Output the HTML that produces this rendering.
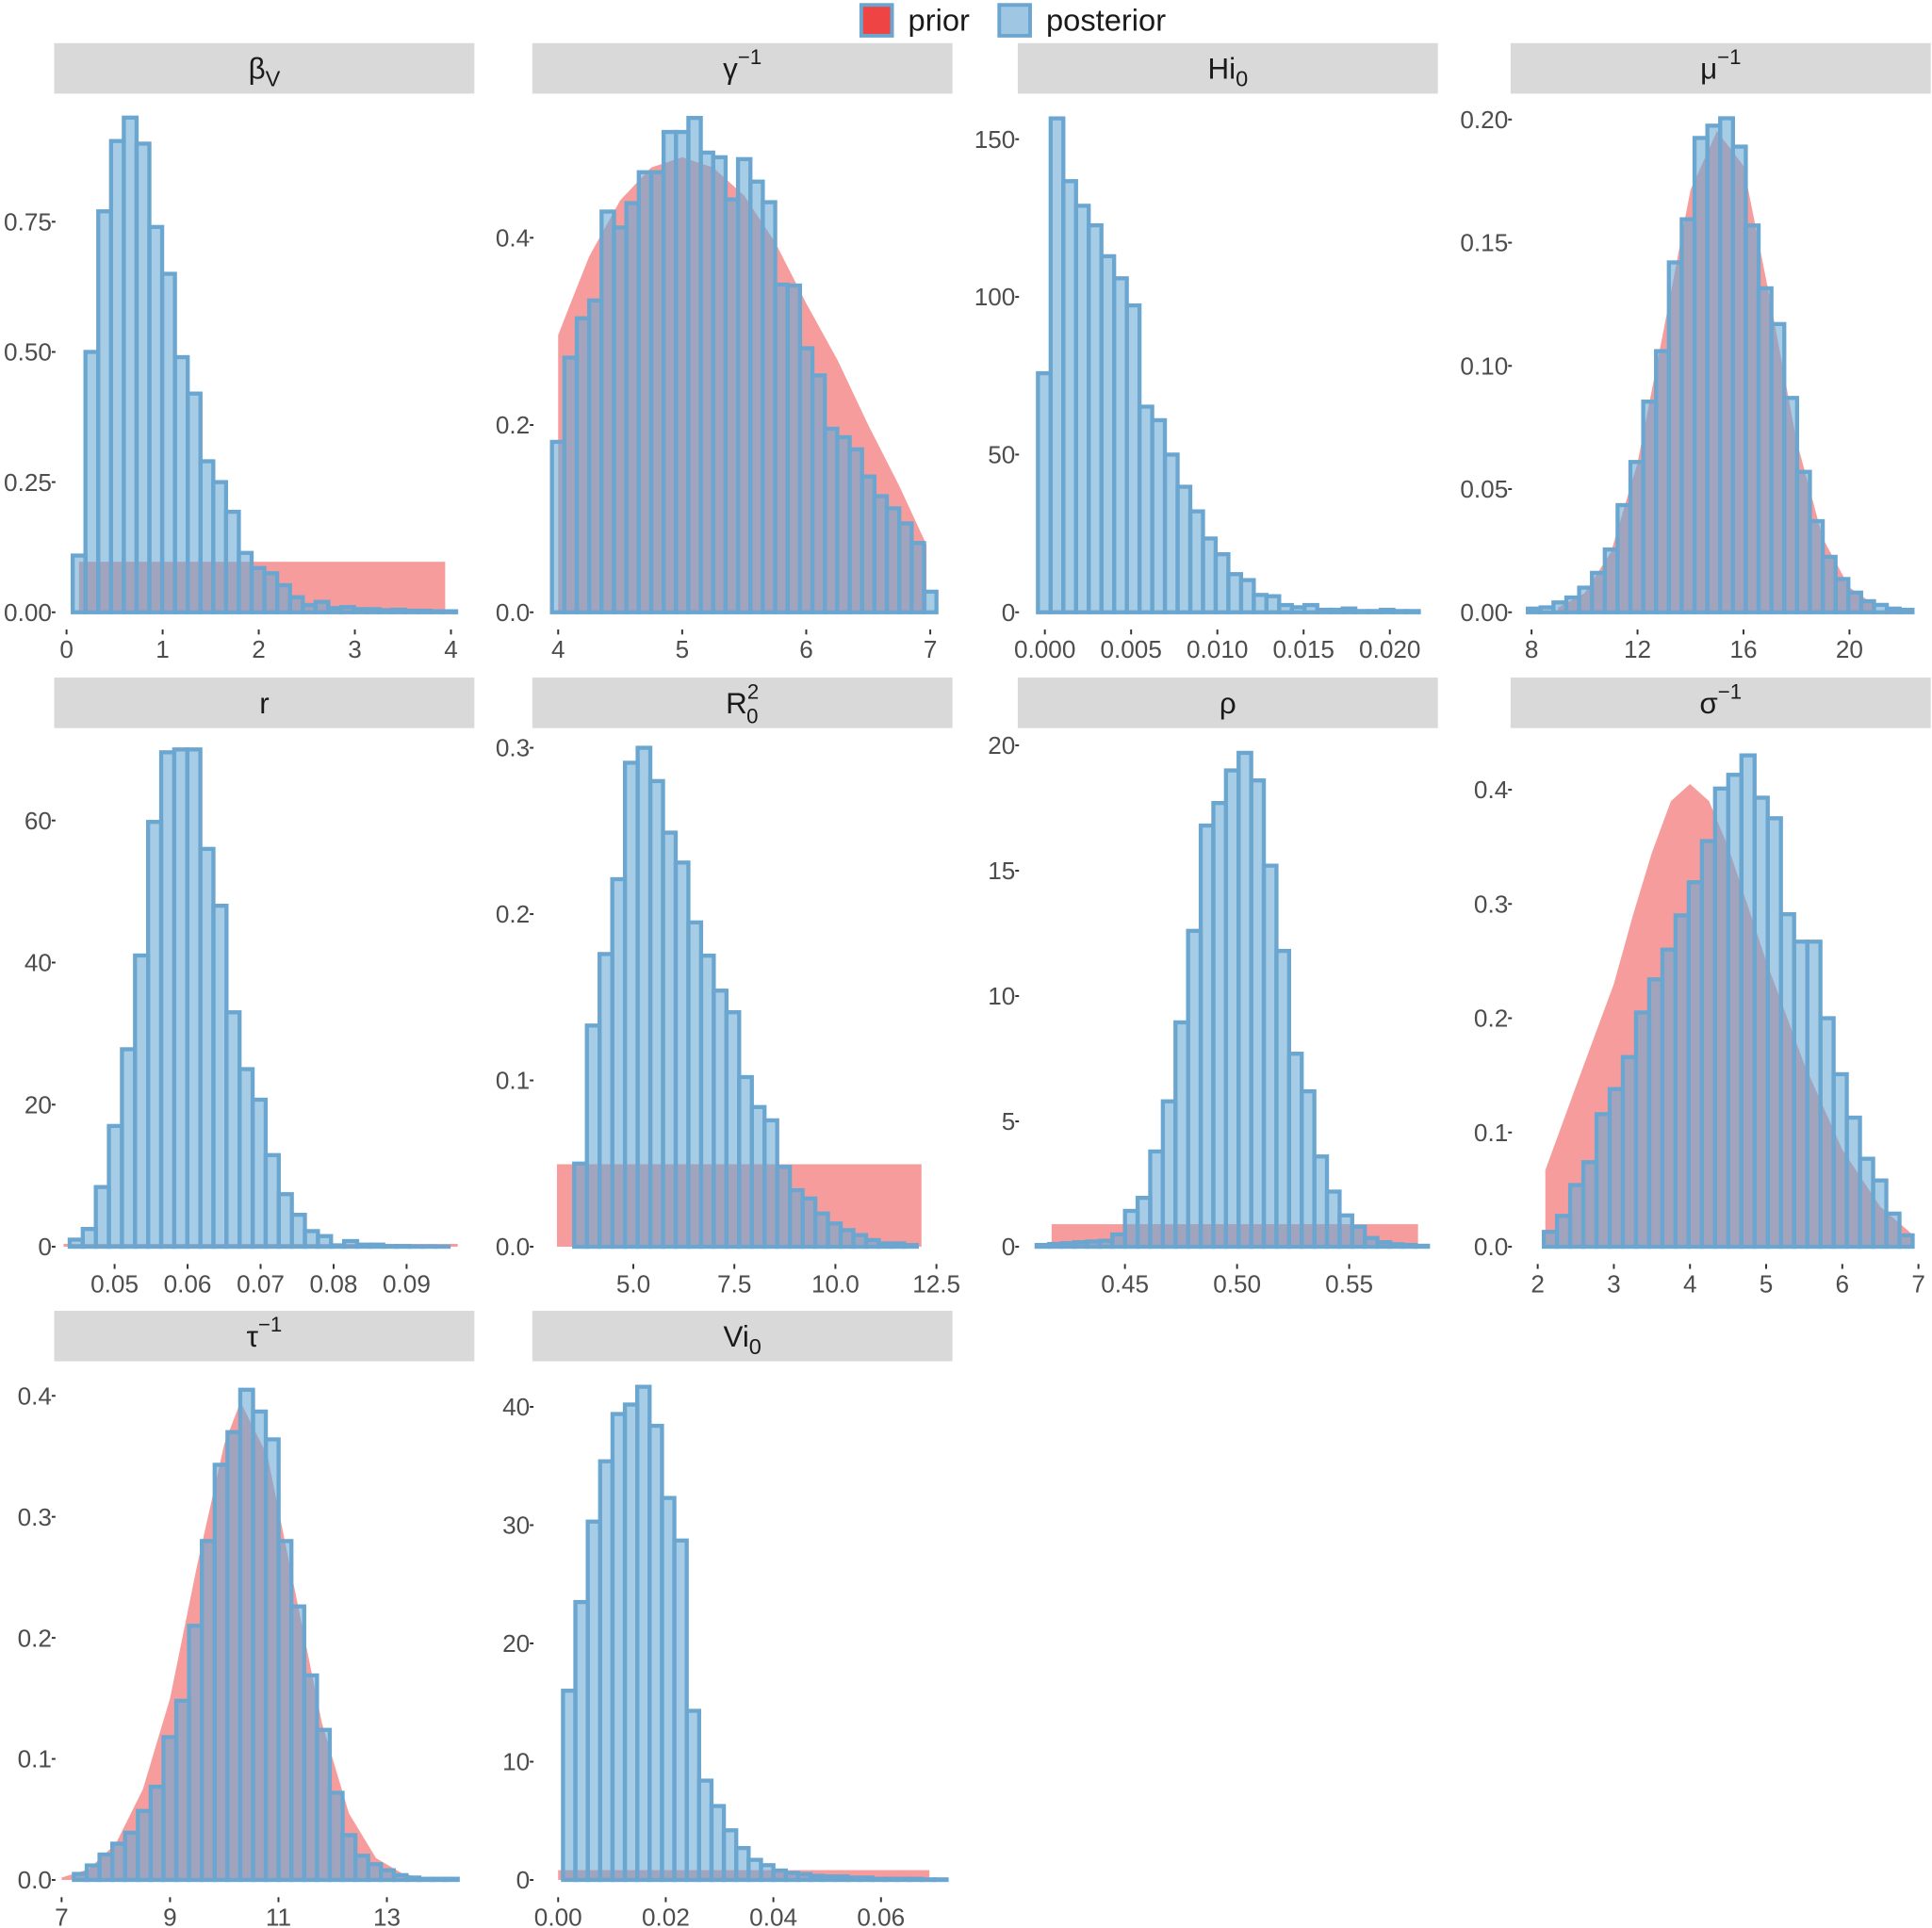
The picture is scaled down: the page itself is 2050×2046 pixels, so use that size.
<!DOCTYPE html>
<html><head><meta charset="utf-8"><style>
html,body{margin:0;padding:0;background:#fff}
svg{display:block}
text{font-family:"Liberation Sans",Arial,sans-serif}
</style></head><body>
<svg id="chart" width="2050" height="2046" viewBox="0 0 1568 1565" preserveAspectRatio="none" xmlns="http://www.w3.org/2000/svg">
<g>
<rect x="699" y="4" width="25" height="25" fill="#ee4444" stroke="#6aa6cf" stroke-width="3"/>
<text x="737" y="25" font-size="25" fill="#1a1a1a">prior</text>
<rect x="811" y="4" width="25" height="25" fill="#9fc7e3" stroke="#6aa6cf" stroke-width="3"/>
<text x="849" y="25" font-size="25" fill="#1a1a1a">posterior</text>
</g>
<g id="panels"></g>
</svg>
<script>
// ---- data arrays ----
const betaStart = 0.064, betaWidth = 0.133;
const betaHeights = [0.109,0.50,0.77,0.905,0.95,0.9,0.74,0.65,0.49,0.42,0.29,0.25,0.193,0.114,0.085,0.075,0.052,0.029,0.014,0.02,0.008,0.01,0.006,0.006,0.004,0.005,0.003,0.003,0.002,0.002];
const betaPriorRect = [0.13, 3.94, 0.097];

const gammaStart = 3.95, gammaWidth = 0.1;
const gammaHeights = [0.182,0.272,0.314,0.333,0.428,0.411,0.437,0.47,0.47,0.513,0.513,0.528,0.491,0.486,0.441,0.484,0.46,0.438,0.35,0.349,0.282,0.253,0.196,0.187,0.174,0.145,0.124,0.111,0.095,0.074,0.022];
const gammaPriorX = [4,4.1,4.25,4.5,4.75,5,5.25,5.5,5.75,6,6.25,6.5,6.75,6.97];
const gammaPriorY = [0.296,0.33,0.38,0.44,0.475,0.486,0.475,0.445,0.395,0.33,0.27,0.2,0.135,0.072];

const hiStart = -0.0004, hiWidth = 0.000736;
const hiHeights = [75.8,156.6,136.7,128.9,122.7,112.9,105.9,97.3,65.2,60.9,50,39.8,32,23.4,18.4,12.1,10.2,5.5,5.1,2.3,1.6,2.3,0.8,0.8,1.2,0.4,0.4,0.8,0.4,0.4];

const muStart = 7.86, muWidth = 0.484;
const muHeights = [0.0015,0.002,0.004,0.006,0.01,0.016,0.0255,0.0435,0.061,0.0855,0.106,0.142,0.1595,0.1925,0.1975,0.2005,0.189,0.157,0.1315,0.117,0.087,0.057,0.037,0.0225,0.0135,0.008,0.0045,0.003,0.0015,0.001];
const muPriorX = [9,10,11,12,13,14,15,16,17,18,19,20,21];
const muPriorY = [0.0019,0.0077,0.0245,0.0606,0.1153,0.1714,0.1953,0.1812,0.1272,0.0698,0.0299,0.0101,0.0026];

const rStart = 0.04385, rWidth = 0.00179;
const rHeights = [1,2.5,8.4,17,27.8,41,59.8,69.6,70,70,56,48,33,25,20.7,12.9,7.4,4.5,2.2,1.5,0.2,0.8,0.3,0.3,0.1,0.1,0.05,0.05,0.02];
const rPriorRect = [0.043, 0.097, 0.4];

const r0Start = 3.537, r0Width = 0.314;
const r0Heights = [0.05,0.133,0.176,0.221,0.291,0.30,0.28,0.249,0.231,0.195,0.175,0.154,0.141,0.102,0.084,0.076,0.048,0.034,0.029,0.02,0.014,0.01,0.007,0.004,0.002,0.002,0.001];
const r0PriorRect = [3.11, 12.13, 0.0496];

const rhoStart = 0.4106, rhoWidth = 0.00563;
const rhoHeights = [0.07,0.11,0.14,0.18,0.21,0.24,0.49,1.43,1.95,3.8,5.8,8.95,12.6,16.8,17.7,19.0,19.7,18.6,15.2,11.8,7.7,6.2,3.6,2.2,1.25,0.8,0.35,0.18,0.1,0.07,0.04];
const rhoPriorRect = [0.4173, 0.5807, 0.9];

const sigmaStart = 2.08, sigmaWidth = 0.173;
const sigmaHeights = [0.013,0.027,0.054,0.074,0.116,0.138,0.166,0.205,0.234,0.26,0.29,0.319,0.355,0.401,0.413,0.43,0.393,0.375,0.291,0.267,0.267,0.2,0.151,0.113,0.077,0.058,0.029,0.01];
const sigmaPriorX = [2.1,2.5,3,3.25,3.5,3.75,4,4.25,4.5,5,5.5,6,6.5,6.9];
const sigmaPriorY = [0.067,0.14,0.23,0.29,0.345,0.39,0.405,0.39,0.35,0.25,0.16,0.085,0.035,0.012];

const tauStart = 7.227, tauWidth = 0.236;
const tauHeights = [0.005,0.012,0.021,0.03,0.039,0.057,0.077,0.118,0.148,0.21,0.28,0.343,0.37,0.405,0.387,0.364,0.28,0.226,0.169,0.124,0.072,0.037,0.02,0.013,0.008,0.004,0.002,0.001,0.001,0.001];
const tauPriorX = [7,7.5,8,8.5,9,9.5,10,10.3,10.8,11.3,11.8,12.3,12.8,13.3,13.8];
const tauPriorY = [0.002,0.009,0.03,0.075,0.15,0.26,0.36,0.395,0.35,0.24,0.13,0.055,0.018,0.005,0.001];

const viStart = 0.0009, viWidth = 0.0023;
const viHeights = [16,23.5,30.3,35.4,39.4,40.2,41.7,38.4,32.3,28.7,14.3,8.4,6.25,4.2,2.7,1.7,1.25,0.8,0.6,0.5,0.35,0.3,0.3,0.2,0.2,0.1,0.1,0.1,0.1,0.05,0.05];
const viPriorRect = [0.0, 0.069, 0.83];

// tick labels
const betaXT = ["0","1","2","3","4"], betaYT = ["0.00","0.25","0.50","0.75"];
const gammaXT = ["4","5","6","7"], gammaYT = ["0.0","0.2","0.4"];
const hiXT = ["0.000","0.005","0.010","0.015","0.020"], hiYT = ["0","50","100","150"];
const muXT = ["8","12","16","20"], muYT = ["0.00","0.05","0.10","0.15","0.20"];
const rXT = ["0.05","0.06","0.07","0.08","0.09"], rYT = ["0","20","40","60"];
const r0XT = ["5.0","7.5","10.0","12.5"], r0YT = ["0.0","0.1","0.2","0.3"];
const rhoXT = ["0.45","0.50","0.55"], rhoYT = ["0","5","10","15","20"];
const sigmaXT = ["2","3","4","5","6","7"], sigmaYT = ["0.0","0.1","0.2","0.3","0.4"];
const tauXT = ["7","9","11","13"], tauYT = ["0.0","0.1","0.2","0.3","0.4"];
const viXT = ["0.00","0.02","0.04","0.06"], viYT = ["0","10","20","30","40"];

// ---- layout ----
const NS = "http://www.w3.org/2000/svg";
const root = document.getElementById("panels");
function mk(tag, attrs, parent){
  const e = document.createElementNS(NS, tag);
  for (const k in attrs) e.setAttribute(k, attrs[k]);
  parent.appendChild(e);
  return e;
}
const cols = [[44,385],[432,773],[826,1167],[1226,1567]];
const rows = [{s:35, b:497},{s:550, b:1012},{s:1064, b:1526}];

const panels = [
 {id:"beta-v", c:0, r:0, title:[["β",""],["V","sub"]], xa:[0,54], xb:[4,366], ya:[0.75,180], start:betaStart, w:betaWidth, h:betaHeights, rect:betaPriorRect, xt:betaXT, yt:betaYT},
 {id:"gamma-inv", c:1, r:0, title:[["γ",""],["−1","sup"]], xa:[4,453], xb:[7,755], ya:[0.4,193], start:gammaStart, w:gammaWidth, h:gammaHeights, px:gammaPriorX, py:gammaPriorY, xt:gammaXT, yt:gammaYT},
 {id:"hi0", c:2, r:0, title:[["Hi",""],["0","sub"]], xa:[0,848], xb:[0.02,1128], ya:[150,113], start:hiStart, w:hiWidth, h:hiHeights, xt:hiXT, yt:hiYT},
 {id:"mu-inv", c:3, r:0, title:[["μ",""],["−1","sup"]], xa:[8,1243], xb:[20,1501], ya:[0.2,97], start:muStart, w:muWidth, h:muHeights, px:muPriorX, py:muPriorY, xt:muXT, yt:muYT},
 {id:"r", c:0, r:1, title:[["r",""]], xa:[0.05,93], xb:[0.09,330], ya:[60,666], start:rStart, w:rWidth, h:rHeights, rect:rPriorRect, xt:rXT, yt:rYT},
 {id:"r0-squared", c:1, r:1, title:[["R",""],["2","sup"],["0","sub0"]], xa:[5,514], xb:[12.5,760], ya:[0.3,607], start:r0Start, w:r0Width, h:r0Heights, rect:r0PriorRect, xt:r0XT, yt:r0YT},
 {id:"rho", c:2, r:1, title:[["ρ",""]], xa:[0.45,913], xb:[0.55,1095], ya:[20,605], start:rhoStart, w:rhoWidth, h:rhoHeights, rect:rhoPriorRect, xt:rhoXT, yt:rhoYT},
 {id:"sigma-inv", c:3, r:1, title:[["σ",""],["−1","sup"]], xa:[2,1248], xb:[7,1557], ya:[0.4,641], start:sigmaStart, w:sigmaWidth, h:sigmaHeights, px:sigmaPriorX, py:sigmaPriorY, xt:sigmaXT, yt:sigmaYT},
 {id:"tau-inv", c:0, r:2, title:[["τ",""],["−1","sup"]], xa:[7,50], xb:[13,314], ya:[0.4,1133], start:tauStart, w:tauWidth, h:tauHeights, px:tauPriorX, py:tauPriorY, xt:tauXT, yt:tauYT},
 {id:"vi0", c:1, r:2, title:[["Vi",""],["0","sub"]], xa:[0,453], xb:[0.06,715], ya:[40,1142], start:viStart, w:viWidth, h:viHeights, rect:viPriorRect, xt:viXT, yt:viYT}
];

panels.forEach(p => {
  const [x0,x1] = cols[p.c];
  const row = rows[p.r];
  const base = row.b;
  const g = mk("g", {}, root);
  
  
  const X = v => p.xa[1] + (v - p.xa[0]) * (p.xb[1] - p.xa[1]) / (p.xb[0] - p.xa[0]);
  const Y = v => base - v * (base - p.ya[1]) / p.ya[0];

  const st = mk("rect", {x:x0, y:row.s, width:x1-x0, height:41, fill:"#d9d9d9"}, g);
  
  
  const tt = mk("text", {x:(x0+x1)/2, y:row.s+29, "font-size":24, fill:"#1a1a1a", "text-anchor":"middle"}, g);
  
  
  p.title.forEach(([t, k]) => {
    const ts = document.createElementNS(NS, "tspan");
    if (k === "sub") { ts.setAttribute("dy", "6"); ts.setAttribute("font-size", "18"); }
    if (k === "sup") { ts.setAttribute("dy", "-12"); ts.setAttribute("font-size", "17"); }
    if (k === "sub0") { ts.setAttribute("dy", "20"); ts.setAttribute("dx", "-10"); ts.setAttribute("font-size", "17"); }
    ts.textContent = t;
    tt.appendChild(ts);
  });

  if (p.rect) {
    const pr = mk("rect", {x:X(p.rect[0]), y:Y(p.rect[2]), width:X(p.rect[1]) - X(p.rect[0]), height:base - Y(p.rect[2]), fill:"#ef4a4a", "fill-opacity":0.55}, g);
    
    
  } else if (p.px) {
    let pts = X(p.px[0]) + "," + base + " ";
    p.px.forEach((v, i) => { pts += X(v) + "," + Y(p.py[i]) + " "; });
    pts += X(p.px[p.px.length-1]) + "," + base;
    const pp = mk("polygon", {points:pts, fill:"#ef4a4a", "fill-opacity":0.55, "stroke-linejoin":"round"}, g);
    
    
  }

  p.h.forEach((v, i) => {
    const xa = X(p.start + i * p.w), xb = X(p.start + (i + 1) * p.w);
    const b = mk("rect", {x:xa, y:Y(v), width:xb - xa, height:base - Y(v), fill:"#6aaad6", "fill-opacity":0.6, stroke:"#6aa6cf", "stroke-width":3.3}, g);
    
    
  });

  p.xt.forEach(lbl => {
    const xv = X(parseFloat(lbl));
    mk("line", {x1:xv, x2:xv, y1:base+14, y2:base+18, stroke:"#333", "stroke-width":1.5}, g);
    const t = mk("text", {x:xv, y:base+37, "font-size":20, fill:"#4d4d4d", "text-anchor":"middle"}, g);
    
    
    t.textContent = lbl;
  });
  p.yt.forEach(lbl => {
    const yv = Y(parseFloat(lbl));
    mk("line", {x1:x0-2, x2:x0+1, y1:yv, y2:yv, stroke:"#333", "stroke-width":1.5}, g);
    const t = mk("text", {x:x0-2, y:yv+7, "font-size":20, fill:"#4d4d4d", "text-anchor":"end"}, g);
    
    
    t.textContent = lbl;
  });
});
</script>
</body></html>
